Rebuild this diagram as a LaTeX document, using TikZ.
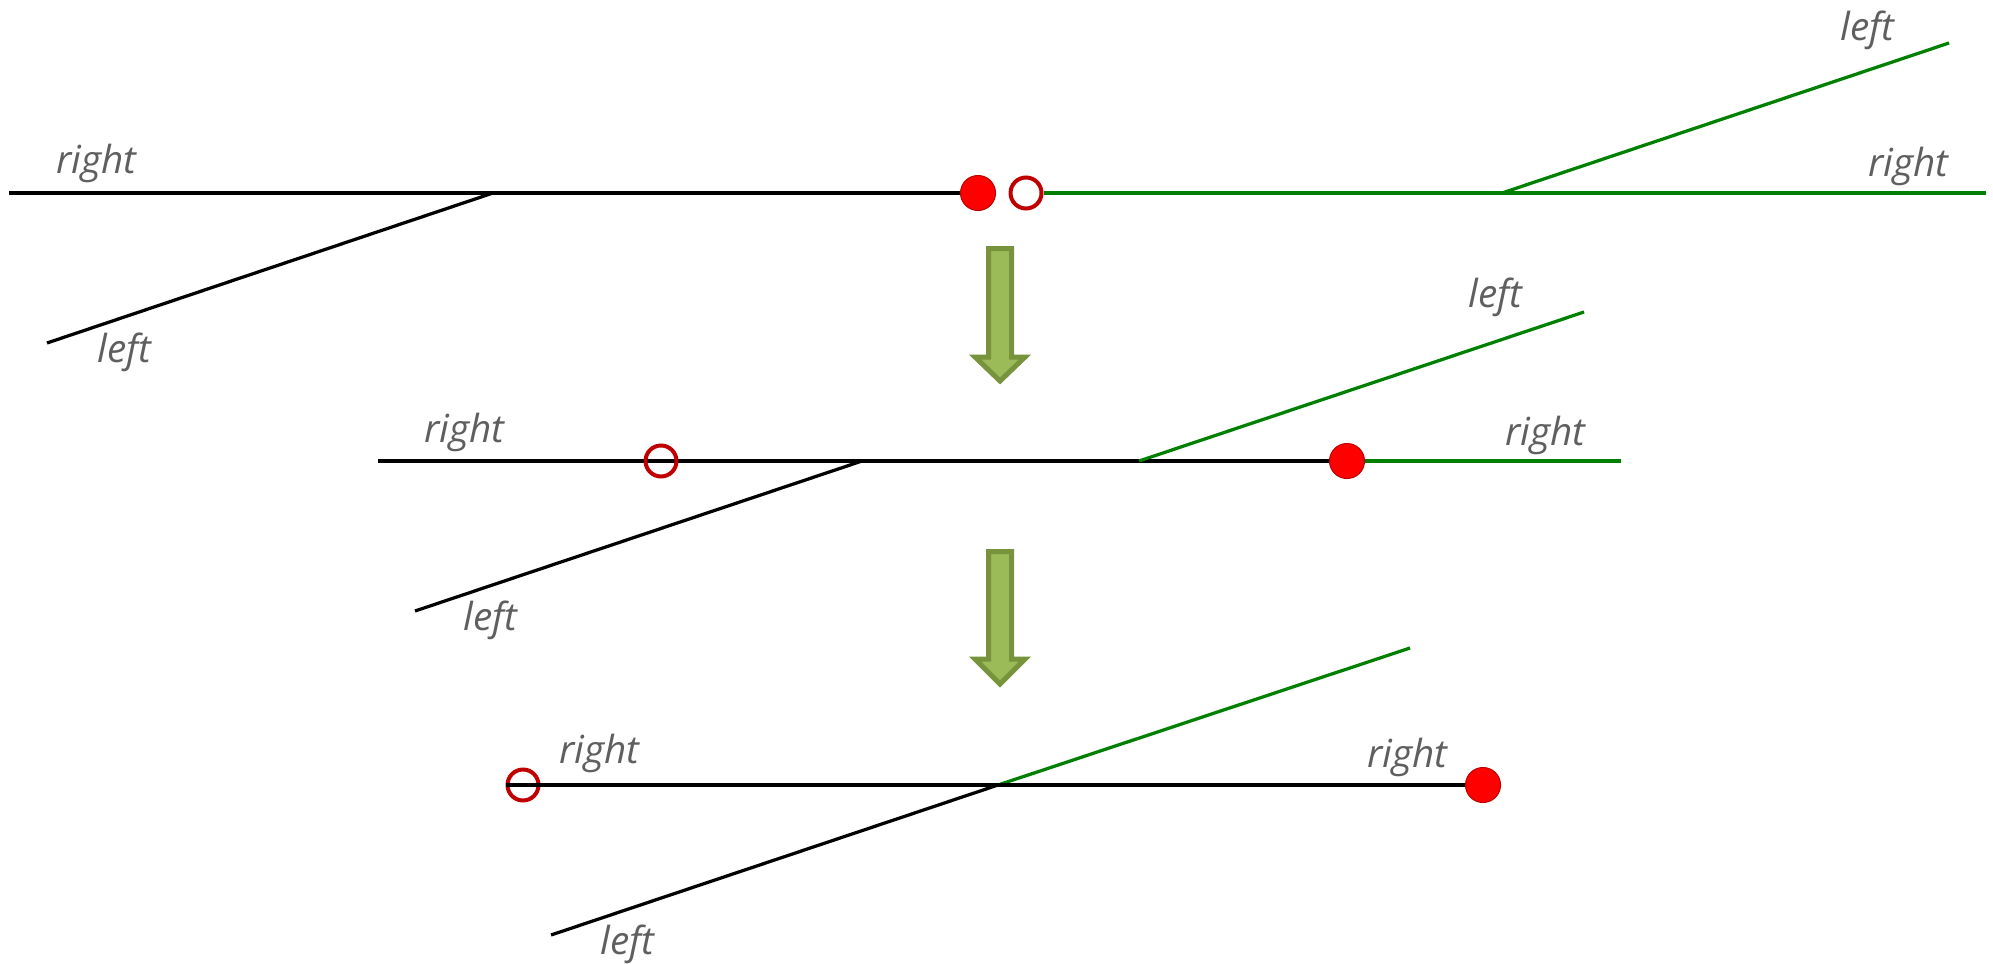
\documentclass[tikz,border=0pt]{standalone}
\usepackage{fontspec}
\setmainfont{Open Sans}
\begin{document}
\begin{tikzpicture}[x=0.02cm,y=-0.02cm,
  track/.style={line width=0.065cm},
  blk/.style={track,black},
  grn/.style={track,color=trackgreen},
  solidpt/.style={circle,fill=red,draw=darkred,line width=0.6pt,minimum size=0.7cm,inner sep=0pt},
  hollowpt/.style={circle,draw=darkred,line width=0.08cm,minimum size=0.62cm,inner sep=0pt},
  lbl/.style={anchor=base west,inner sep=0pt,text=labelgray,font=\fontsize{22}{26}\selectfont\itshape},
  bigarrow/.style={draw=arrowborder,fill=arrowfill,line width=0.1cm,line join=miter}
]
\definecolor{trackgreen}{RGB}{0,128,0}
\definecolor{darkred}{RGB}{192,0,0}
\definecolor{labelgray}{RGB}{95,95,95}
\definecolor{arrowborder}{RGB}{119,147,60}
\definecolor{arrowfill}{RGB}{155,187,89}
\useasboundingbox (0,0) rectangle (1993,963);

% ---------- top row ----------
\coordinate (ta) at (9,193);
\coordinate (tj) at (493,193);
\coordinate (tl) at (47,343);
\coordinate (tgj) at (1502,193);
\coordinate (tgl) at (1949,43);
\coordinate (te) at (1986,193);
\node[solidpt] (f1) at (978,193) {};
\node[hollowpt,fill=white] (o1) at (1026,193) {};
\draw[blk] (ta) -- (f1);
\draw[blk] (tj) -- (tl);
\draw[grn] (o1) -- (te);
\draw[grn] (tgj) -- (tgl);
\node[lbl] (tr1) at (56,173) {right};
\node[lbl] (tl1) at (97,362) {left};
\node[lbl] (tl2) at (1840,41) {left};
\node[lbl] (tr2) at (1868,176) {right};

% ---------- arrow 1 ----------
\draw[bigarrow] (988.5,248.5) -- (1011.5,248.5) -- (1011.5,357) -- (1025,357) -- (1000,381) -- (975,357) -- (988.5,357) -- cycle;

% ---------- middle row ----------
\coordinate (ma) at (378,461);
\coordinate (mj) at (862,461);
\coordinate (ml) at (415,611);
\coordinate (mgj) at (1139,461);
\coordinate (mgl) at (1584,312);
\coordinate (me) at (1621,461);
\node[solidpt] (f2) at (1347,461) {};
\draw[blk] (ma) -- (f2);
\draw[blk] (mj) -- (ml);
\draw[grn] (f2) -- (me);
\draw[grn] (mgj) -- (mgl);
\node[hollowpt] (o2) at (661,461) {};
\node[lbl] (mr1) at (424,442) {right};
\node[lbl] (ml1) at (463,630) {left};
\node[lbl] (ml2) at (1468,307) {left};
\node[lbl] (mr2) at (1505,445) {right};

% ---------- arrow 2 ----------
\draw[bigarrow] (988.5,551.5) -- (1011.5,551.5) -- (1011.5,659) -- (1025,659) -- (1000,684) -- (975,659) -- (988.5,659) -- cycle;

% ---------- bottom row ----------
\coordinate (bj) at (998,785);
\coordinate (bl) at (551,935);
\coordinate (bgl) at (1410,648);
\node[hollowpt] (o3) at (523,785) {};
\node[solidpt] (f3) at (1483,785) {};
\draw[grn] (bj) -- (bgl);
\draw[blk] (o3.west) -- (f3);
\draw[blk] (bj) -- (bl);
\node[lbl] (br1) at (559,763) {right};
\node[lbl] (bl1) at (600,954) {left};
\node[lbl] (br2) at (1367,767) {right};
\end{tikzpicture}
\end{document}
